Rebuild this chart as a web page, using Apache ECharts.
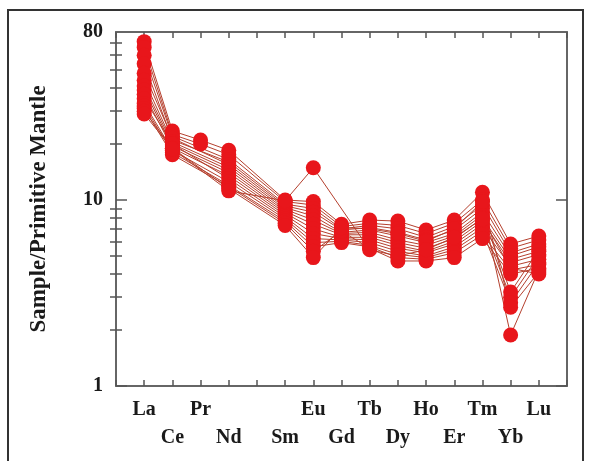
<!DOCTYPE html>
<html><head><meta charset="utf-8">
<script src="https://cdn.jsdelivr.net/npm/echarts@6/dist/echarts.min.js"></script>
<style>html,body{margin:0;padding:0;background:#fff}#c{width:593px;height:461px}</style>
</head><body><div id="c"></div>
<script>
// Element order (Pm not analysed)
const elements = ['La','Ce','Pr','Nd','Pm','Sm','Eu','Gd','Tb','Dy','Ho','Er','Tm','Yb','Lu'];
const yLabelValues = [1, 10, 80];
const yMajorTicks = [1, 10];
const yMinorTicks = [2,3,4,5,6,7,8,9,20,30,40,50,60,70];
// Sample / Primitive Mantle, one array per sample (order as in elements)
const s01 = [71, 23.5, 21,   18.5, null, 10.0, 9.8,  7.4,  7.8, 7.7, 6.9, 7.8, 11.0, 5.8,  6.4];
const s02 = [66, 22.5, 20,   17.5, null, 9.8,  9.4,  7.2,  7.5, 7.3, 6.6, 7.5, 10.0, 5.5,  6.1];
const s03 = [60, 22,   null, 16.5, null, 9.5,  9.0,  7.0,  7.3, 7.0, 6.3, 7.2, 9.4,  5.2,  5.8];
const s04 = [54, 21,   null, 16,   null, 9.3,  8.6,  6.9,  7.1, 6.7, 6.1, 6.9, 9.0,  1.88, 4.2];
const s05 = [48, 21.5, null, 15.5, null, 9.1,  8.2,  6.7,  6.9, 6.4, 5.9, 6.6, 8.6,  5.0,  5.6];
const s06 = [44, 20.5, null, 15,   null, 8.9,  7.8,  6.6,  6.7, 6.1, 5.7, 6.4, 8.3,  3.2,  5.4];
const s07 = [41, 20,   null, 14.5, null, 8.7,  7.4,  6.5,  6.5, 5.9, 5.5, 6.2, 8.0,  4.8,  5.3];
const s08 = [39, 19.5, null, 14,   null, 8.5,  7.0,  6.3,  6.3, 5.7, 5.3, 6.0, 7.7,  4.6,  5.1];
const s09 = [37, 19,   null, 13.5, null, 8.3,  6.6,  6.2,  6.1, 5.5, 5.2, 5.8, 7.4,  3.0,  5.0];
const s10 = [35, 20,   null, 13,   null, 8.1,  6.2,  6.1,  5.9, 5.3, 5.0, 5.6, 7.1,  4.4,  4.8];
const s11 = [33, 18.5, null, 12.5, null, 7.9,  5.9,  6.0,  5.7, 5.1, 4.9, 5.4, 6.8,  2.8,  4.6];
const s12 = [32, 18,   null, 12,   null, 7.7,  5.6,  5.9,  5.6, 4.9, 4.8, 5.2, 6.5,  4.2,  4.5];
const s13 = [31, 17.5, null, 11.8, null, 7.5,  5.3,  6.8,  5.5, 4.7, 4.7, 4.9, 6.2,  4.0,  4.3];
const s14 = [30, 19,   null, 11.5, null, 7.3,  4.9,  7.1,  7.0, 6.6, 6.0, 7.0, 9.8,  2.65, 4.1];
const s15 = [29, 18.8, null, 11.2, null, 9.9,  14.9, null, 5.4, 5.0, 5.4, 6.3, 7.9,  4.3,  4.0];
const samples = [s01,s02,s03,s04,s05,s06,s07,s08,s09,s10,s11,s12,s13,s14,s15];

const FONT = 'Liberation Serif';
const axisLineStyle = {color:'#666', width:2};
const tickStyle = {color:'#555', width:1.5};

const series = samples.map((s, k) => ({
  type: 'line',
  name: 'S' + (k + 1),
  xAxisIndex: 0, yAxisIndex: 0,
  data: s.map((v, i) => v == null ? null : [i + 1, v]).filter(d => d),
  symbol: 'circle', symbolSize: 15,
  itemStyle: {color: '#e8161b'},
  lineStyle: {color: '#b5402e', width: 1},
  animation: false
}));

const chart = echarts.init(document.getElementById('c'), null, {renderer:'canvas'});
chart.setOption({
  animation: false,
  backgroundColor: '#fff',
  grid: {left:116, right:26, top:32, bottom:75, containLabel:false, outerBoundsMode:'none'},
  xAxis: [
    {type:'value', min:0, max:elements.length + 1, interval:1, position:'bottom',
     axisLine:{show:true, onZero:false, lineStyle:axisLineStyle},
     axisTick:{show:true, inside:true, length:6, lineStyle:tickStyle},
     splitLine:{show:false},
     axisLabel:{show:true, margin:10, lineHeight:28, fontFamily:FONT, fontWeight:'bold', fontSize:20, color:'#1a1a1a',
       showMinLabel:true, showMaxLabel:true, hideOverlap:false, interval:0,
       formatter: v => {
         const name = elements[v - 1];
         if (!name || name === 'Pm') return '';
         return (v % 2 === 1) ? name : '\n' + name;
       }}},
    {type:'value', min:0, max:elements.length + 1, interval:1, position:'top',
     axisLine:{show:true, onZero:false, lineStyle:axisLineStyle},
     axisTick:{show:true, inside:true, length:6, lineStyle:tickStyle},
     splitLine:{show:false}, axisLabel:{show:false}}
  ],
  yAxis: [
    {type:'log', logBase:10, min:1, max:80, position:'left',
     name:'Sample/Primitive Mantle', nameLocation:'middle', nameGap:65, nameRotate:90,
     nameTextStyle:{fontFamily:FONT, fontWeight:'bold', fontSize:23, color:'#1a1a1a'},
     axisLine:{show:true, onZero:false, lineStyle:axisLineStyle},
     axisTick:{show:true, inside:true, length:11, lineStyle:tickStyle, customValues:yMajorTicks},
     axisLabel:{show:true, margin:13, fontFamily:FONT, fontWeight:'bold', fontSize:20, color:'#1a1a1a', customValues:yLabelValues},
     splitLine:{show:false}, minorTick:{show:false}},
    {type:'log', logBase:10, min:1, max:80, position:'left',
     axisLine:{show:false},
     axisTick:{show:true, inside:true, length:6, lineStyle:tickStyle, customValues:yMinorTicks},
     axisLabel:{show:false}, splitLine:{show:false}},
    {type:'log', logBase:10, min:1, max:80, position:'right',
     axisLine:{show:true, onZero:false, lineStyle:axisLineStyle},
     axisTick:{show:true, inside:true, length:11, lineStyle:tickStyle, customValues:yMajorTicks},
     axisLabel:{show:false}, splitLine:{show:false}},
    {type:'log', logBase:10, min:1, max:80, position:'right',
     axisLine:{show:false},
     axisTick:{show:true, inside:true, length:6, lineStyle:tickStyle, customValues:yMinorTicks},
     axisLabel:{show:false}, splitLine:{show:false}}
  ],
  graphic: [
    {type:'rect', silent:true, z:-1, shape:{x:8, y:10, width:575, height:480},
     style:{fill:null, stroke:'#333', lineWidth:2}}
  ],
  series: series
});
</script>
</body></html>
